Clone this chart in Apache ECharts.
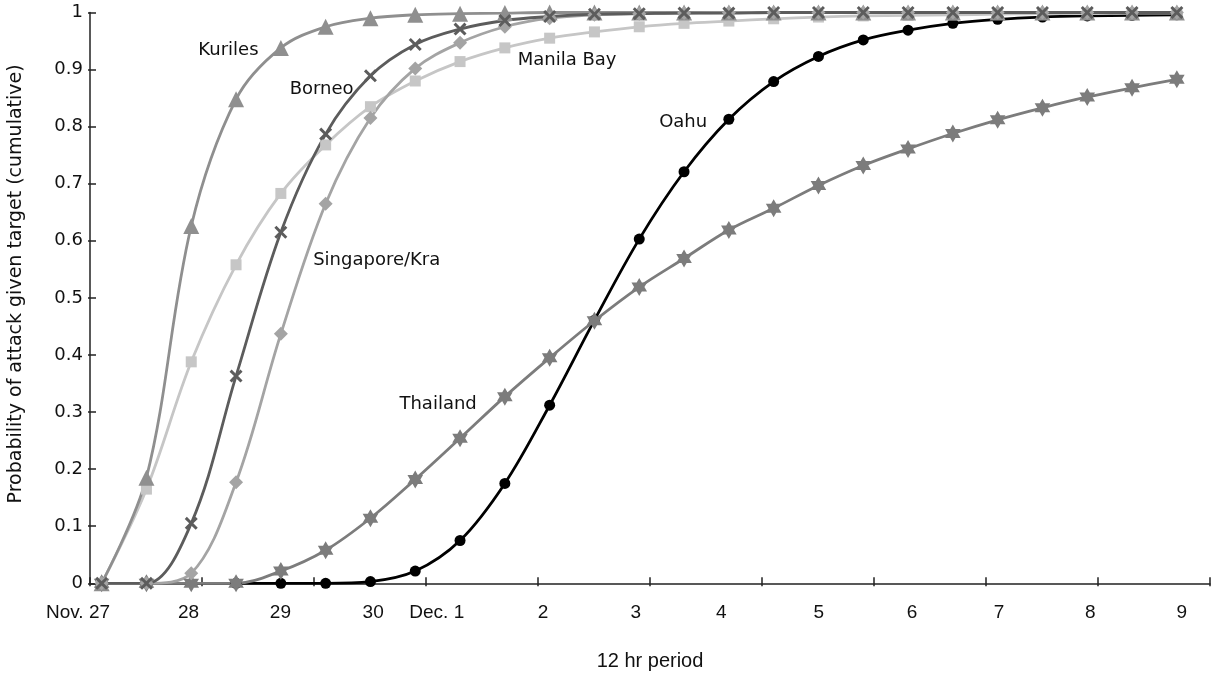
<!DOCTYPE html>
<html>
<head>
<meta charset="utf-8">
<script src="https://cdn.jsdelivr.net/npm/echarts@6/dist/echarts.min.js"></script>
<style>
html,body{margin:0;padding:0;background:#fff;}
#c{width:1215px;height:676px;}
</style>
</head>
<body>
<div id="c"></div>
<script>
// 12-hour periods, index 0..24 (Nov. 27 -> Dec. 9)
const periods = [0,1,2,3,4,5,6,7,8,9,10,11,12,13,14,15,16,17,18,19,20,21,22,23,24];

const kuriles   = [0, 0.185, 0.626, 0.848, 0.938, 0.975, 0.990, 0.996, 0.998, 0.999, 1, 1, 1, 1, 1, 1, 1, 1, 1, 1, 1, 1, 1, 1, 1];
const manilaBay = [0, 0.165, 0.388, 0.558, 0.683, 0.768, 0.835, 0.880, 0.914, 0.938, 0.955, 0.966, 0.975, 0.981, 0.985, 0.989, 0.992, 0.994, 0.995, 0.996, 0.997, 0.998, 0.998, 0.999, 0.999];
const borneo    = [0, 0, 0.105, 0.363, 0.615, 0.787, 0.889, 0.944, 0.971, 0.986, 0.993, 0.997, 0.998, 0.999, 0.999, 1, 1, 1, 1, 1, 1, 1, 1, 1, 1];
const singapore = [0, 0, 0.0175, 0.177, 0.437, 0.665, 0.815, 0.902, 0.947, 0.975, 0.990, 0.996, 0.998, 0.999, 1, 1, 1, 1, 1, 1, 1, 1, 1, 1, 1];
const thailand  = [0, 0, 0, 0, 0.0215, 0.058, 0.114, 0.182, 0.254, 0.327, 0.395, 0.460, 0.519, 0.569, 0.619, 0.657, 0.697, 0.732, 0.761, 0.788, 0.812, 0.833, 0.852, 0.868, 0.883];
const oahu      = [null, null, null, 0, 0, 0, 0.003, 0.0215, 0.075, 0.175, 0.312, 0.461, 0.603, 0.721, 0.813, 0.879, 0.923, 0.952, 0.969, 0.981, 0.988, 0.992, 0.994, 0.995, 0.996];

// x-axis tick labels and where they sit (in period units)
const tickLabelTexts  = ['Nov. 27', '28', '29', '30', 'Dec. 1', '2', '3', '4', '5', '6', '7', '8', '9'];
const tickLabelValues = [-0.26, 1.94, 3.99, 6.06, 7.48, 9.85, 11.92, 13.83, 16.01, 18.09, 20.03, 22.07, 24.11];
const tickMarkValues  = [-0.26, 2.24, 4.74, 7.24, 9.74, 12.24, 14.74, 17.24, 19.74, 22.24, 24.74];

// series name labels: [period, probability]
const seriesLabels = {
  'Kuriles': [2.83, 0.934],
  'Borneo': [4.91, 0.865],
  'Singapore/Kra': [6.14, 0.565],
  'Manila Bay': [10.39, 0.917],
  'Oahu': [12.98, 0.807],
  'Thailand': [7.51, 0.314]
};

const X_PATH = 'path://M0,1.6 L1.6,0 L5,3.4 L8.4,0 L10,1.6 L6.6,5 L10,8.4 L8.4,10 L5,6.6 L1.6,10 L0,8.4 L3.4,5 Z';
const STAR_PATH = 'path://M10,0 L12.89,5 L18.66,5 L15.77,10 L18.66,15 L12.89,15 L10,20 L7.11,15 L1.34,15 L4.23,10 L1.34,5 L7.11,5 Z';

const TXT = '#111';
const AX = '#222';
const LABEL_FONT = 'DejaVu Sans';
const X_MIN = -0.26, X_MAX = 24.74;

function pair(vals){ return periods.map((p,i)=>[p, vals[i]]); }

function mk(name, vals, color, symbol, size){
  const lbl = seriesLabels[name];
  return {
    name: name,
    type: 'line',
    xAxisIndex: 0,
    yAxisIndex: 0,
    data: pair(vals),
    smooth: 0.35,
    connectNulls: false,
    symbol: symbol,
    symbolSize: size,
    symbolKeepAspect: true,
    showSymbol: true,
    lineStyle: {color: color, width: 2.8},
    itemStyle: {color: color, borderWidth: 0},
    silent: true,
    markPoint: {
      silent: true,
      symbol: 'circle',
      symbolSize: 0,
      label: {show: true, position: 'inside', color: TXT, fontSize: 18, fontFamily: LABEL_FONT, formatter: name},
      data: [{coord: lbl, value: name}]
    }
  };
}

const chart = echarts.init(document.getElementById('c'), null, {renderer: 'canvas'});
chart.setOption({
  animation: false,
  backgroundColor: '#fff',
  grid: {left: 90, right: 5, top: 12.5, bottom: 92.7, containLabel: false, outerBoundsMode: 'none'},
  xAxis: [{
    type: 'value',
    position: 'bottom',
    min: X_MIN,
    max: X_MAX,
    name: '12 hr period',
    nameLocation: 'middle',
    nameGap: 68,
    nameTextStyle: {fontFamily: 'Liberation Sans', fontSize: 20, color: TXT},
    axisLine: {show: true, onZero: false, lineStyle: {color: AX, width: 1.5}},
    axisTick: {show: true, inside: true, length: 6, customValues: tickMarkValues, lineStyle: {color: AX, width: 1.5}},
    axisLabel: {
      customValues: tickLabelValues,
      margin: 20,
      fontFamily: 'Liberation Sans',
      fontSize: 19,
      color: TXT,
      formatter: function(v){
        const k = tickLabelValues.indexOf(v);
        const t = k >= 0 ? tickLabelTexts[k] : '';
        return k === 0 ? '{shift|' + t + '}' : t;
      },
      rich: {shift: {padding: [0, 24, 0, 0], fontFamily: 'Liberation Sans', fontSize: 19, color: TXT}}
    },
    splitLine: {show: false}
  }, {
    type: 'value',
    position: 'bottom',
    min: X_MIN,
    max: X_MAX,
    axisLine: {show: false, onZero: false},
    axisTick: {show: true, inside: false, length: 3, customValues: tickMarkValues, lineStyle: {color: AX, width: 1.5}},
    axisLabel: {show: false},
    splitLine: {show: false}
  }],
  yAxis: [{
    type: 'value',
    position: 'left',
    min: 0,
    max: 1,
    interval: 0.1,
    name: 'Probability of attack given target (cumulative)',
    nameLocation: 'middle',
    nameGap: 64,
    nameTextStyle: {fontFamily: LABEL_FONT, fontSize: 19, color: TXT, padding: [0, 0, 0, 28]},
    axisLine: {show: true, onZero: false, lineStyle: {color: AX, width: 1.5}},
    axisTick: {show: true, inside: true, length: 6, lineStyle: {color: AX, width: 1.5}},
    axisLabel: {margin: 7, fontFamily: LABEL_FONT, fontSize: 18, color: TXT},
    splitLine: {show: false}
  }, {
    type: 'value',
    position: 'left',
    min: 0,
    max: 1,
    interval: 0.1,
    axisLine: {show: false, onZero: false},
    axisTick: {show: true, inside: false, length: 2, lineStyle: {color: AX, width: 1.5}},
    axisLabel: {show: false},
    splitLine: {show: false}
  }],
  series: [
    mk('Oahu', oahu, '#000000', 'circle', 11),
    mk('Thailand', thailand, '#7c7c7c', STAR_PATH, 18),
    mk('Manila Bay', manilaBay, '#c6c6c6', 'rect', 11),
    mk('Kuriles', kuriles, '#8f8f8f', 'triangle', 16),
    mk('Singapore/Kra', singapore, '#a4a4a4', 'diamond', 14),
    mk('Borneo', borneo, '#5c5c5c', X_PATH, 13)
  ]
});
</script>
</body>
</html>
